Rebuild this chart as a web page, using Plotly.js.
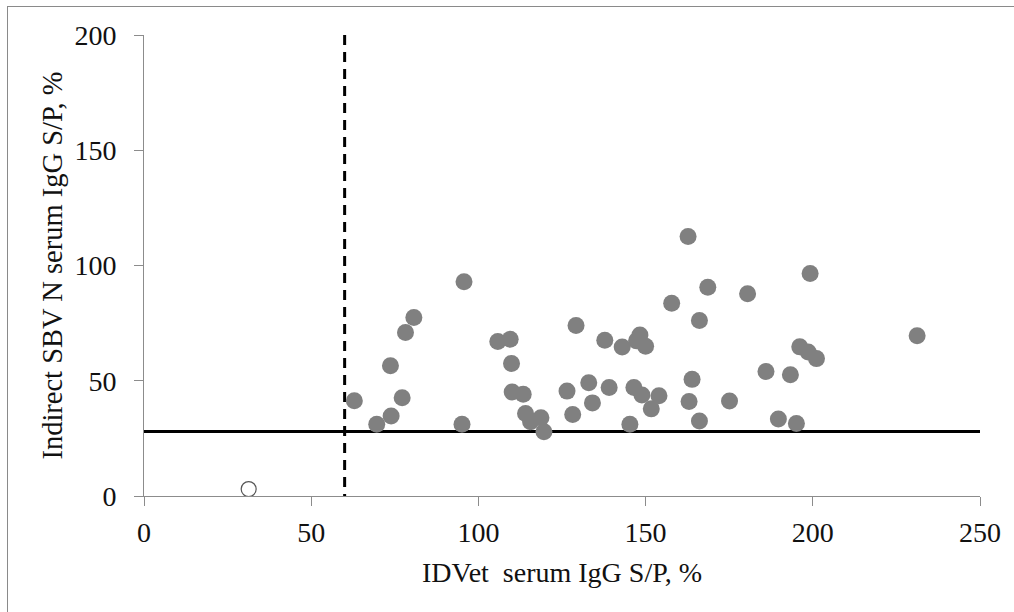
<!DOCTYPE html>
<html>
<head>
<meta charset="utf-8">
<script src="https://cdn.plot.ly/plotly-3.0.1.min.js"></script>
<style>
  html, body { margin: 0; padding: 0; background: #fff; }
  #wrap { position: relative; width: 1014px; height: 612px; overflow: hidden; }
  #chart { position: absolute; left: 0; top: 0; width: 1014px; height: 612px; }
  #frame { position: absolute; left: 7px; top: 6px; width: 1020px; height: 620px;
           border-left: 1px solid #8a8a8a; border-top: 1px solid #8a8a8a; pointer-events: none; }
</style>
</head>
<body>
<div id="wrap">
  <div id="chart"></div>
  <div id="frame"></div>
</div>
<script>
// IDVet serum IgG S/P (%) — positive samples
const idvetPos = [62.9, 69.6, 73.9, 73.7, 77.2, 78.2, 80.7, 95.7, 95.1, 105.8, 109.5, 109.9, 110.1, 113.4, 114.1, 115.6, 118.7, 119.6,
  126.5, 128.2, 129.2, 133.0, 134.1, 137.8, 139.1, 143.0, 145.3, 146.5, 148.3, 147.3, 150.0, 148.9, 151.7, 154.0, 157.8, 162.7, 163.0, 163.9,
  166.1, 166.1, 168.6, 175.1, 180.5, 186.0, 189.7, 193.3, 195.1, 199.2, 196.1, 198.6, 201.1, 231.2];
// Indirect SBV N serum IgG S/P (%) — positive samples
const sbvPos = [41.3, 31.1, 34.7, 56.5, 42.6, 70.9, 77.4, 93.0, 31.1, 67.0, 68.0, 57.5, 45.1, 44.1, 35.8, 32.2, 33.9, 27.9,
  45.5, 35.4, 74.0, 49.1, 40.4, 67.6, 47.1, 64.6, 31.1, 47.1, 69.8, 67.3, 65.0, 43.8, 37.8, 43.5, 83.6, 112.6, 41.0, 50.6,
  76.1, 32.5, 90.6, 41.2, 87.7, 54.0, 33.4, 52.6, 31.5, 96.5, 64.7, 62.5, 59.6, 69.5];
// Negative sample
const idvetNeg = [31.3];
const sbvNeg = [3.0];
// Cut-off lines
const sbvCutoffX = [0, 250];
const sbvCutoffY = [28, 28];
const idvetCutoffX = [60, 60];
const idvetCutoffY = [200, 0];
// Axis ticks
const xTicks = [0, 50, 100, 150, 200, 250];
const yTicks = [0, 50, 100, 150, 200];

const font = 'Liberation Serif';

const traces = [
  { x: sbvCutoffX, y: sbvCutoffY, mode: 'lines', line: { color: '#000', width: 3 }, hoverinfo: 'skip', showlegend: false },
  { x: idvetCutoffX, y: idvetCutoffY, mode: 'lines', line: { color: '#000', width: 3, dash: '10px,7px' }, hoverinfo: 'skip', showlegend: false },
  { x: idvetPos, y: sbvPos, mode: 'markers', type: 'scatter',
    marker: { color: '#808080', size: 17, line: { width: 0 } }, showlegend: false },
  { x: idvetNeg, y: sbvNeg, mode: 'markers', type: 'scatter',
    marker: { color: '#ffffff', size: 15, line: { color: '#555', width: 1.2 } }, showlegend: false }
];

const axisCommon = {
  showgrid: false, zeroline: false, showline: true, linecolor: '#8c8c8c', linewidth: 1,
  ticks: 'outside', ticklen: 9, tickcolor: '#8c8c8c', tickwidth: 1,
  tickfont: { family: font, size: 28, color: '#111' }
};

const layout = {
  width: 1014, height: 612,
  margin: { l: 144, r: 34, t: 35, b: 116 },
  paper_bgcolor: '#fff', plot_bgcolor: '#fff',
  font: { family: font },
  xaxis: Object.assign({}, axisCommon, {
    range: [0, 250], tickvals: xTicks, ticktext: xTicks.map(String),
    ticklabelstandoff: 2,
    title: { text: 'IDVet  serum IgG S/P, %', font: { family: font, size: 28, color: '#111' }, standoff: 15 }
  }),
  yaxis: Object.assign({}, axisCommon, {
    range: [0, 200], tickvals: yTicks, ticktext: yTicks.map(String),
    ticklabelstandoff: 12,
    title: { text: 'Indirect SBV N serum IgG S/P, %', font: { family: font, size: 28.5, color: '#111' }, standoff: 3 }
  })
};

Plotly.newPlot('chart', traces, layout, { displayModeBar: false, staticPlot: true });
</script>
</body>
</html>
